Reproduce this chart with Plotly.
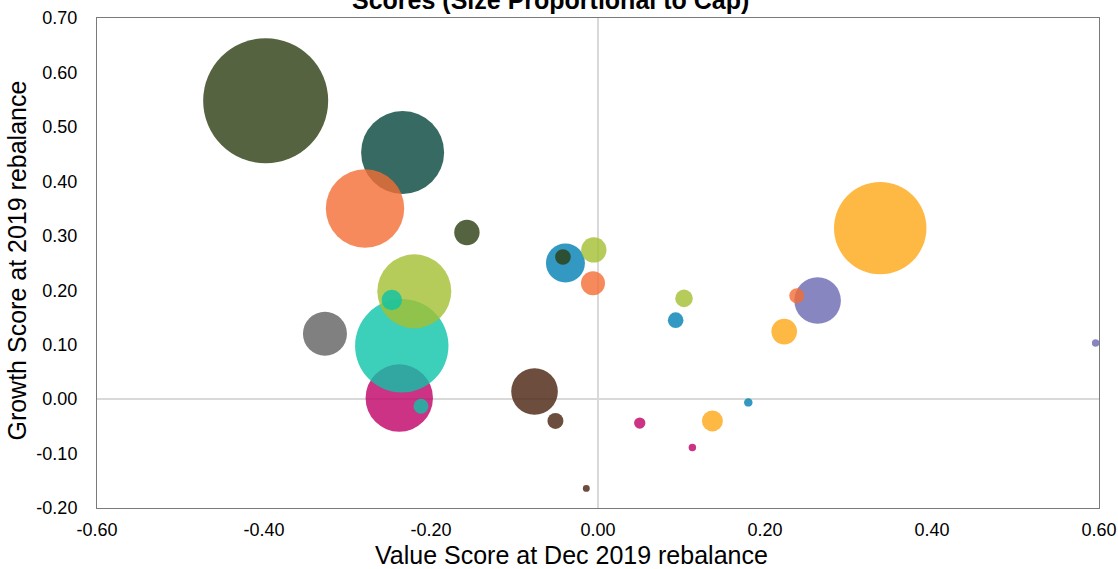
import plotly.graph_objects as go

# Sector groups (drawing order) and their bubble colours
group_colors = ["#2c3c10", "#04453b", "#f46d33", "#606060", "#bf0066",
                "#0bc3a7", "#a4bf31", "#48210e", "#0080b3", "#fda814", "#6a68b0"]

# Large-cap bubble per group: value score, growth score, cap
large_value = [-0.398, -0.234, -0.279, -0.327, -0.238, -0.235, -0.220, -0.076, -0.039, 0.338, 0.263]
large_growth = [0.548, 0.453, 0.350, 0.120, 0.002, 0.098, 0.198, 0.014, 0.250, 0.314, 0.181]
large_cap = [390.6, 172.2, 153.7, 48.4, 113.6, 218.1, 136.9, 54.3, 38.0, 213.4, 54.3]

# Mid-cap bubble per group (None where the group has none)
mid_value = [-0.157, None, -0.006, None, 0.050, -0.247, -0.005, -0.051, 0.093, 0.223, None]
mid_growth = [0.306, None, 0.213, None, -0.044, 0.182, 0.274, -0.040, 0.145, 0.124, None]
mid_cap = [16.1, None, 14.4, None, 3.2, 10.4, 16.1, 6.4, 6.1, 16.4, None]

# Small-cap bubble per group
small_value = [-0.042, None, 0.238, None, 0.113, -0.212, 0.103, -0.014, 0.180, 0.137, 0.596]
small_growth = [0.261, None, 0.190, None, -0.089, -0.013, 0.185, -0.164, -0.006, -0.040, 0.103]
small_cap = [6.1, None, 5.6, None, 1.4, 5.6, 7.7, 1.2, 1.8, 11.0, 1.4]

x_ticks = [-0.6, -0.4, -0.2, 0.0, 0.2, 0.4, 0.6]
y_ticks = [-0.2, -0.1, 0.0, 0.1, 0.2, 0.3, 0.4, 0.5, 0.6, 0.7]

FONT = "Liberation Sans, Arial, sans-serif"
SIZEREF = 0.05

fig = go.Figure()
for name, xs, ys, caps in [("Large", large_value, large_growth, large_cap),
                           ("Mid", mid_value, mid_growth, mid_cap),
                           ("Small", small_value, small_growth, small_cap)]:
    pts = [(x, y, c, col) for x, y, c, col in zip(xs, ys, caps, group_colors) if x is not None]
    fig.add_trace(go.Scatter(
        x=[p[0] for p in pts], y=[p[1] for p in pts], mode="markers", name=name,
        marker=dict(size=[p[2] for p in pts], sizemode="area", sizeref=SIZEREF,
                    color=[p[3] for p in pts], opacity=0.8, line=dict(width=0)),
        hoverinfo="x+y", showlegend=False,
    ))

axis_common = dict(showgrid=False, zeroline=True, zerolinecolor="#d9d9d9", zerolinewidth=1.5,
                   showline=True, linecolor="#7a7a7a", linewidth=1, mirror=True,
                   automargin=False, ticks="",
                   tickfont=dict(family=FONT, size=18, color="#000"))

fig.update_xaxes(range=[-0.6, 0.6], tickvals=x_ticks, ticktext=[f"{v:.2f}" for v in x_ticks],
                 ticklabelstandoff=5, **axis_common)
fig.update_yaxes(range=[-0.2, 0.7], tickvals=y_ticks, ticktext=[f"{v:.2f}" for v in y_ticks],
                 ticklabelstandoff=15, **axis_common)

fig.update_layout(
    width=1118, height=569,
    margin=dict(l=97, r=19, t=18, b=61, autoexpand=False),
    paper_bgcolor="white", plot_bgcolor="white",
    font=dict(family=FONT, color="#000"),
    annotations=[
        dict(text="<b>Scores (Size Proportional to Cap)</b>", xref="paper", yref="paper",
             x=0.453, y=1.0, yanchor="bottom", xanchor="center", showarrow=False,
             font=dict(family=FONT, size=25, color="#000"), yshift=2),
        dict(text="Value Score at Dec 2019 rebalance", xref="paper", yref="paper",
             x=0.474, y=0, yanchor="top", xanchor="center", showarrow=False, yshift=-31,
             font=dict(family=FONT, size=25, color="#000")),
        dict(text="Growth Score at 2019 rebalance", xref="paper", yref="paper",
             x=0, y=0.505, xanchor="right", yanchor="middle", textangle=-90, showarrow=False,
             xshift=-64, font=dict(family=FONT, size=25, color="#000")),
    ],
)

fig.write_html("out.html")
